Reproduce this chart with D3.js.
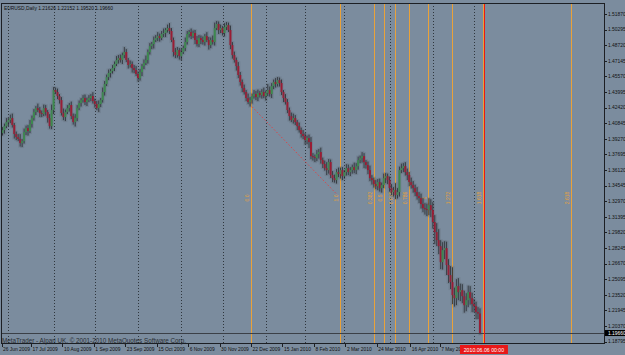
<!DOCTYPE html>
<html>
<head>
<meta charset="utf-8">
<title>EURUSD,Daily</title>
<script src="https://cdn.jsdelivr.net/npm/d3@7"></script>
<style>
  body { margin: 0; background: #7b8c9e; }
  svg { display: block; }
  text { font-family: "Liberation Sans", Arial, sans-serif; }
</style>
</head>
<body>
<script>
// ---- data ---------------------------------------------------------------
const symbol = 'EURUSD,Daily';
const header = ['1.21626', '1.22152', '1.19520', '1.19660'];
const firstDay = '2009-06-26';
const holidays = ['2009-12-25', '2010-01-01'];
const firstOpen = 1.3985;

// daily closes, one per trading day from 26 Jun 2009 to 4 Jun 2010
const closes = [
  1.4015,1.4055,1.4096,1.4116,1.4136,1.4066,1.3975,1.3944,1.3924,1.3884,
  1.3904,1.3995,1.4035,1.4005,1.4076,1.4136,1.4197,1.4237,1.4217,1.4187,
  1.4177,1.4237,1.4197,1.4136,1.4055,1.4217,1.4419,1.4399,1.4358,1.4318,
  1.4187,1.4146,1.4197,1.4237,1.4268,1.4156,1.4096,1.4136,1.4237,1.4288,
  1.4318,1.4338,1.4298,1.4318,1.4338,1.4358,1.4308,1.4278,1.4237,1.4278,
  1.4318,1.4399,1.4480,1.4550,1.4591,1.4611,1.4641,1.4682,1.4722,1.4742,
  1.4722,1.4772,1.4803,1.4722,1.4672,1.4682,1.4641,1.4621,1.4581,1.4540,
  1.4601,1.4661,1.4692,1.4722,1.4803,1.4863,1.4884,1.4924,1.4944,1.4964,
  1.4944,1.4985,1.4995,1.5025,1.5045,1.5015,1.4924,1.4803,1.4772,1.4823,
  1.4762,1.4803,1.4843,1.4904,1.4985,1.5005,1.4964,1.4995,1.4924,1.4884,
  1.4944,1.4924,1.4904,1.4964,1.4924,1.4873,1.4924,1.4904,1.5045,1.5086,
  1.5025,1.5045,1.4995,1.5055,1.5075,1.5025,1.4873,1.4772,1.4722,1.4661,
  1.4571,1.4500,1.4439,1.4399,1.4338,1.4298,1.4318,1.4358,1.4379,1.4348,
  1.4389,1.4369,1.4399,1.4358,1.4389,1.4419,1.4379,1.4459,1.4500,1.4480,
  1.4520,1.4490,1.4399,1.4338,1.4298,1.4217,1.4156,1.4116,1.4136,1.4096,
  1.4055,1.4015,1.3975,1.3954,1.3914,1.3934,1.3894,1.3752,1.3742,1.3732,
  1.3773,1.3793,1.3712,1.3672,1.3631,1.3611,1.3692,1.3561,1.3530,1.3510,
  1.3591,1.3571,1.3611,1.3550,1.3591,1.3631,1.3591,1.3611,1.3641,1.3611,
  1.3651,1.3712,1.3732,1.3752,1.3692,1.3662,1.3611,1.3530,1.3510,1.3470,
  1.3449,1.3490,1.3429,1.3460,1.3530,1.3550,1.3510,1.3429,1.3389,1.3409,
  1.3359,1.3389,1.3611,1.3631,1.3651,1.3591,1.3561,1.3490,1.3460,1.3429,
  1.3389,1.3348,1.3328,1.3268,1.3227,1.3217,1.3207,1.3257,1.3207,1.3086,
  1.2985,1.2904,1.2843,1.2682,1.2803,1.2823,1.2652,1.2551,1.2480,1.2349,
  1.2318,1.2440,1.2379,1.2399,1.2338,1.2247,1.2298,1.2379,1.2318,1.2258,
  1.2237,1.2177,1.21626,1.19660
];

// shadow above the body / below the body, in pips
const wickUp = [
  30,25,40,20,35,45,20,25,30,50,20,35,25,30,40,25,30,20,45,30,
  25,35,30,20,40,55,30,25,35,20,30,45,25,30,20,35,25,40,30,25,
  20,30,35,25,30,20,40,25,30,35,20,45,30,25,35,20,30,25,40,30,
  35,25,50,30,20,35,25,30,40,25,30,20,35,45,25,30,20,35,30,40,
  25,30,45,20,35,50,30,25,40,30,20,35,25,45,30,20,35,25,30,40,
  30,25,35,20,40,30,25,45,55,30,25,35,20,40,30,25,45,30,35,25,
  40,30,25,35,20,45,30,25,40,30,35,20,30,45,25,60,35,30,25,40,
  30,25,35,20,40,30,25,35,45,30,20,35,25,40,30,25,35,50,30,25,
  40,30,45,25,35,60,30,25,40,35,30,45,25,30,20,40,35,30,25,45,
  30,35,25,40,30,20,35,45,30,25,40,30,35,25,45,30,25,35,40,30,
  70,40,35,45,30,40,35,30,45,40,35,50,40,45,60,50,55,70,60,80,
  70,90,110,60,80,70,65,60,90,150,75,70,80,65,60,55,70,65,60,55,
  50,45,50,52
];
const wickDown = [
  25,35,20,40,30,25,45,30,20,35,40,25,30,45,20,35,25,30,20,40,
  30,20,35,45,25,30,40,20,30,35,25,30,40,20,35,30,25,45,30,20,
  35,25,30,40,20,30,25,35,20,40,30,25,35,20,30,45,25,30,20,35,
  25,40,30,20,35,25,45,30,20,35,25,40,30,20,35,25,30,45,20,30,
  35,20,30,40,25,30,20,45,30,25,35,40,20,30,25,35,30,20,40,25,
  30,40,25,35,20,45,30,25,35,20,40,30,25,35,30,20,40,35,25,45,
  30,35,40,25,30,20,45,35,25,30,40,25,35,20,45,30,25,40,30,35,
  25,35,30,40,25,30,45,20,35,30,40,25,35,30,45,40,60,30,35,40,
  30,45,35,40,25,50,35,30,40,25,35,30,45,40,25,35,30,40,35,30,
  40,35,30,45,60,35,40,30,45,35,30,40,35,45,30,50,40,35,30,45,
  40,35,45,30,40,35,50,40,35,45,40,35,50,45,40,55,60,50,70,65,
  120,60,80,70,75,90,100,80,70,90,85,70,80,90,70,75,60,70,65,80,
  60,70,55,14
];

const priceTicks = [
  1.18795,1.20370,1.21945,1.23520,1.25095,1.26670,1.28245,1.29820,1.31395,1.32970,1.34545,
  1.36120,1.37695,1.39270,1.40845,1.42420,1.43995,1.45570,1.47145,1.48720,1.50295,1.51870
];
const dateTicks = ['2009-06-26','2009-07-17','2009-08-10','2009-09-01','2009-09-23','2009-10-15',
  '2009-11-06','2009-11-30','2009-12-22','2010-01-15','2010-02-08','2010-03-02','2010-03-24',
  '2010-04-16','2010-05-07'];
const separators = ['2009-07-01','2009-08-03','2009-09-01','2009-10-01','2009-11-02','2009-12-01',
  '2010-01-04','2010-02-01','2010-03-01','2010-04-01','2010-05-03','2010-06-01'];

// fibo time lines: anchor bar, bar span of one unit, levels and their captions
const fiboAnchor = 171.7;
const fiboSpan = 45;
const fiboLevels = [-1, 0, 0.382, 0.5, 0.618, 0.786, 1, 1.272, 1.618, 2.618];
const fiboCaptions = ['0.0', '1.0', '0.382', '0.5', '0.618', '0.786', '1', '1.272', '1.618', '2.618'];
const fiboBase = [[127, 1.4250], [170, 1.3370]];
const cursorBar = 245;
const cursorLabel = '2010.06.06 00:00';
const copyright = 'MetaTrader - Alpari UK, \u00a9 2001-2010 MetaQuotes Software Corp.';

// ---- layout ---------------------------------------------------------------
const W = 625, H = 355;
const plot = { left: 1, top: 3, right: 604, bottom: 343 };
const colors = {
  bg: '#7b8c9e', frame: '#1c1f24', text: '#111', up: '#3d8a4f', down: '#9a1c34',
  wick: '#1b1d20', halo: '#56606b', fibo: '#e9a23a', sep: '#1d2126', cursor: '#e81818'
};

// trading calendar (weekdays, minus the two closed days)
const parse = d3.utcParse('%Y-%m-%d');
const fmt = d3.utcFormat('%Y-%m-%d');
const days = [];
for (let d = parse(firstDay); days.length < 330; d = d3.utcDay.offset(d, 1)) {
  const wd = d.getUTCDay();
  if (wd === 0 || wd === 6 || holidays.includes(fmt(d))) continue;
  days.push(fmt(d));
}
const barIndex = s => days.indexOf(s);

const bars = closes.map((c, i) => {
  const o = i === 0 ? firstOpen : closes[i - 1];
  return {
    i, o, c,
    h: Math.max(o, c) + wickUp[i] / 10000,
    l: Math.min(o, c) - wickDown[i] / 10000
  };
});

const x = d3.scaleLinear().domain([0, closes.length - 1]).range([2.5, 480]);
const y = d3.scaleLinear().domain([1.18795, 1.51870]).range([341.6, 14]);
const px = v => Math.round(v) + 0.5;

const svg = d3.select('body').append('svg')
  .attr('width', W).attr('height', H);

svg.append('rect').attr('width', W).attr('height', H).attr('fill', colors.bg);

svg.append('defs').append('clipPath').attr('id', 'clip')
  .append('rect')
  .attr('x', plot.left).attr('y', plot.top)
  .attr('width', plot.right - plot.left).attr('height', plot.bottom - plot.top);

const g = svg.append('g').attr('clip-path', 'url(#clip)');

// month separators
g.selectAll('line.sep')
  .data(separators)
  .enter().append('line')
  .attr('class', 'sep')
  .attr('x1', d => px(x(barIndex(d))))
  .attr('x2', d => px(x(barIndex(d))))
  .attr('y1', plot.top).attr('y2', plot.bottom)
  .attr('stroke', colors.sep).attr('stroke-width', 1)
  .attr('shape-rendering', 'crispEdges')
  .attr('stroke-dasharray', '1,2').attr('opacity', 0.8);

// fibo time lines
const fiboX = lv => px(x(fiboAnchor + lv * fiboSpan));
g.selectAll('line.fibo')
  .data(fiboLevels)
  .enter().append('line')
  .attr('class', 'fibo')
  .attr('x1', fiboX).attr('x2', fiboX)
  .attr('y1', plot.top).attr('y2', plot.bottom)
  .attr('shape-rendering', 'crispEdges')
  .attr('stroke', colors.fibo).attr('stroke-width', 1);

g.selectAll('text.fibo')
  .data(fiboLevels)
  .enter().append('text')
  .attr('class', 'fibo')
  .attr('transform', d => 'translate(' + (fiboX(d) - 2.5) + ',198) rotate(-90)')
  .attr('text-anchor', 'middle')
  .attr('font-size', 5)
  .attr('fill', colors.fibo)
  .text((d, i) => fiboCaptions[i]);

g.append('line')
  .attr('x1', x(fiboBase[0][0])).attr('y1', y(fiboBase[0][1]))
  .attr('x2', x(fiboBase[1][0])).attr('y2', y(fiboBase[1][1]))
  .attr('stroke', '#d9464a').attr('stroke-width', 1)
  .attr('stroke-dasharray', '1.5,2');

// candles
const candle = g.selectAll('g.bar')
  .data(bars)
  .enter().append('g')
  .attr('class', 'bar');

candle.append('rect')
  .attr('x', d => x(d.i) - 2)
  .attr('width', 4)
  .attr('y', d => y(d.h) - 1)
  .attr('height', d => y(d.l) - y(d.h) + 2)
  .attr('fill', colors.halo).attr('opacity', 0.22);

candle.append('line')
  .attr('x1', d => x(d.i)).attr('x2', d => x(d.i))
  .attr('y1', d => y(d.h)).attr('y2', d => y(d.l))
  .attr('stroke', colors.wick).attr('stroke-width', 0.7);

candle.append('rect')
  .attr('x', d => x(d.i) - 1)
  .attr('width', 2)
  .attr('y', d => y(Math.max(d.o, d.c)))
  .attr('height', d => Math.max(0.8, Math.abs(y(d.o) - y(d.c))))
  .attr('fill', d => d.c >= d.o ? colors.up : colors.down);

// bid line
const last = closes[closes.length - 1];
svg.append('line')
  .attr('x1', plot.left).attr('x2', plot.right)
  .attr('y1', px(y(last))).attr('y2', px(y(last)))
  .attr('shape-rendering', 'crispEdges')
  .attr('stroke', '#3b4047').attr('stroke-width', 1);

// cursor line
svg.append('line')
  .attr('x1', px(x(cursorBar))).attr('x2', px(x(cursorBar)))
  .attr('y1', plot.top).attr('y2', plot.bottom)
  .attr('shape-rendering', 'crispEdges')
  .attr('stroke', colors.cursor).attr('stroke-width', 1);

// frame
svg.append('rect')
  .attr('x', plot.left + 0.5).attr('y', plot.top + 0.5)
  .attr('width', plot.right - plot.left).attr('height', plot.bottom - plot.top)
  .attr('shape-rendering', 'crispEdges')
  .attr('fill', 'none').attr('stroke', colors.frame).attr('stroke-width', 1);

// price axis
const yAxis = svg.append('g');
yAxis.selectAll('line')
  .data(priceTicks)
  .enter().append('line')
  .attr('x1', plot.right).attr('x2', plot.right + 3)
  .attr('y1', d => px(y(d))).attr('y2', d => px(y(d)))
  .attr('stroke', colors.frame);
yAxis.selectAll('text')
  .data(priceTicks)
  .enter().append('text')
  .attr('x', plot.right + 4)
  .attr('y', d => y(d) + 1.8)
  .attr('font-size', 4.9)
  .attr('fill', colors.text)
  .text(d => d3.format('.5f')(d));

// current price box
svg.append('rect')
  .attr('x', plot.right + 1).attr('y', y(last) - 3)
  .attr('width', W - plot.right - 1).attr('height', 6)
  .attr('fill', '#000');
svg.append('text')
  .attr('x', plot.right + 4).attr('y', y(last) + 1.8)
  .attr('font-size', 4.9).attr('fill', '#fff')
  .text(header[3]);

// date axis
const xAxis = svg.append('g');
xAxis.selectAll('line')
  .data(dateTicks)
  .enter().append('line')
  .attr('x1', d => px(x(barIndex(d))) - 1).attr('x2', d => px(x(barIndex(d))) - 1)
  .attr('y1', plot.bottom).attr('y2', plot.bottom + 4)
  .attr('stroke', colors.frame);
xAxis.selectAll('text')
  .data(dateTicks)
  .enter().append('text')
  .attr('x', d => x(barIndex(d)) + 0.5)
  .attr('y', 351)
  .attr('font-size', 4.9)
  .attr('fill', colors.text)
  .text(d => d3.utcFormat('%-d %b %Y')(parse(d)));

// cursor time box
const cx = x(cursorBar);
svg.append('rect')
  .attr('x', cx - 24).attr('y', 345)
  .attr('width', 48).attr('height', 9)
  .attr('fill', colors.cursor);
svg.append('text')
  .attr('x', cx).attr('y', 351.5)
  .attr('text-anchor', 'middle')
  .attr('font-size', 5.2).attr('fill', '#fff')
  .text(cursorLabel);

// header and copyright
svg.append('text')
  .attr('x', 4).attr('y', 10)
  .attr('font-size', 4.9).attr('fill', colors.text)
  .text(symbol + '  ' + header.join(' '));

svg.append('text')
  .attr('x', 2).attr('y', 343)
  .attr('font-size', 6.3).attr('fill', '#2a2e33')
  .text(copyright);
</script>
</body>
</html>
